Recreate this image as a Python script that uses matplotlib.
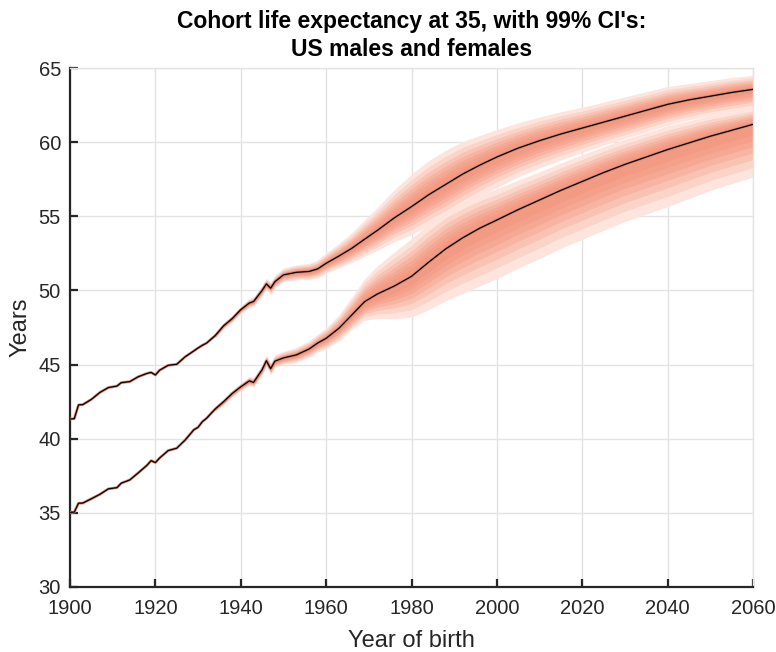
#Cohort life expectancy at 35 - fan chart, US males and females

from matplotlib import pyplot as plt
import numpy as np

plt.rcParams['font.family'] = ['Liberation Sans', 'DejaVu Sans']

# birth cohorts
years = [1900, 1901, 1902, 1903, 1905, 1907, 1909, 1911, 1912, 1914,
         1916, 1918, 1919, 1920, 1921, 1923, 1925, 1927, 1929, 1930,
         1931, 1932, 1934, 1936, 1938, 1940, 1942, 1943, 1945, 1946,
         1947, 1948, 1950, 1953, 1956, 1958, 1960, 1963, 1966, 1969,
         1972, 1976, 1980, 1984, 1988, 1992, 1996, 2000, 2005, 2010,
         2015, 2020, 2025, 2030, 2035, 2040, 2045, 2050, 2055, 2060]

# median e35, females
female_e35 = [41.33, 41.35, 42.28, 42.30, 42.65, 43.12, 43.45, 43.55, 43.78, 43.85,
              44.18, 44.40, 44.47, 44.30, 44.62, 44.95, 45.02, 45.53, 45.92, 46.12,
              46.30, 46.45, 46.95, 47.62, 48.10, 48.70, 49.15, 49.25, 50.00, 50.44,
              50.15, 50.59, 51.05, 51.22, 51.28, 51.45, 51.83, 52.32, 52.84, 53.45,
              54.05, 54.90, 55.65, 56.45, 57.15, 57.85, 58.45, 59.00, 59.60, 60.10,
              60.55, 60.95, 61.35, 61.75, 62.15, 62.55, 62.85, 63.10, 63.35, 63.56]

# median e35, males
male_e35 = [35.04, 35.05, 35.65, 35.66, 35.95, 36.25, 36.62, 36.70, 37.00, 37.22,
            37.70, 38.20, 38.52, 38.39, 38.70, 39.20, 39.36, 39.92, 40.60, 40.77,
            41.15, 41.38, 42.00, 42.50, 43.05, 43.50, 43.90, 43.80, 44.65, 45.26,
            44.72, 45.23, 45.45, 45.65, 46.05, 46.45, 46.77, 47.45, 48.34, 49.24,
            49.76, 50.30, 50.95, 51.90, 52.80, 53.55, 54.20, 54.75, 55.45, 56.10,
            56.75, 57.35, 57.95, 58.50, 59.00, 59.50, 59.95, 60.40, 60.80, 61.20]

# 99% interval, distance above / below the median (cohorts 1934 onwards)
band_start = 1934
female_up = [0.15, 0.20, 0.22, 0.25, 0.30, 0.30, 0.35, 0.38, 0.40, 0.42,
             0.45, 0.50, 0.55, 0.60, 0.70, 0.85, 1.05, 1.30, 1.55, 1.90,
             2.20, 2.30, 2.30, 2.20, 2.00, 1.85, 1.70, 1.60, 1.50, 1.40,
             1.35, 1.30, 1.25, 1.20, 1.10, 1.05, 1.00, 0.95]
female_down = [0.15, 0.20, 0.22, 0.25, 0.30, 0.30, 0.35, 0.38, 0.40, 0.42,
               0.45, 0.50, 0.55, 0.60, 0.65, 0.80, 0.95, 1.15, 1.35, 1.60,
               1.90, 2.05, 2.15, 2.15, 2.10, 2.05, 1.95, 1.85, 1.75, 1.65,
               1.55, 1.50, 1.45, 1.40, 1.35, 1.30, 1.30, 1.30]
male_up = [0.15, 0.20, 0.22, 0.25, 0.30, 0.30, 0.35, 0.38, 0.40, 0.42,
           0.45, 0.50, 0.55, 0.60, 0.70, 0.90, 1.20, 1.55, 1.90, 2.30,
           2.55, 2.60, 2.55, 2.40, 2.25, 2.10, 2.00, 1.90, 1.85, 1.80,
           1.75, 1.70, 1.65, 1.60, 1.50, 1.40, 1.25, 1.10]
male_down = [0.15, 0.20, 0.22, 0.25, 0.30, 0.30, 0.35, 0.38, 0.40, 0.42,
             0.45, 0.50, 0.55, 0.60, 0.70, 0.85, 1.00, 1.25, 1.65, 2.20,
             2.75, 3.20, 3.50, 3.75, 3.90, 3.95, 3.95, 3.95, 3.90, 3.90,
             3.90, 3.85, 3.85, 3.85, 3.75, 3.65, 3.60, 3.55]

# nested intervals, outermost (99%) first, as a share of the 99% width
levels = [1.0, 0.82, 0.67, 0.54, 0.42, 0.31, 0.20]
shades = ['#fde4dc', '#fbd4c8', '#f9c3b3', '#f7b4a1', '#f5a893', '#f4a08a', '#f29a82']

fig = plt.figure(figsize=(7.76, 6.52), dpi=100)
ax = fig.add_axes([0.0902, 0.0997, 0.8802, 0.796])

x = np.array(years)
k = x >= band_start


def fan(center, up, down):
    c = np.array(center)[k]
    for lev, col in zip(levels, shades):
        ax.fill_between(x[k], c - lev * np.array(down), c + lev * np.array(up),
                        color=col, linewidth=0, zorder=2)


fan(female_e35, female_up, female_down)
fan(male_e35, male_up, male_down)

for e35 in (female_e35, male_e35):
    ax.plot(years, e35, color='#d98470', linewidth=2.0, zorder=3)
    ax.plot(years, e35, color='black', linewidth=0.9, zorder=4)

ax.set_xlim(1900, 2060)
ax.set_ylim(30, 65)
ax.set_xticks(range(1900, 2061, 20))
ax.set_yticks(range(30, 66, 5))
ax.grid(True, color='#e3e3e3', linewidth=1.0, zorder=0)
ax.set_axisbelow(True)

for s in ('left', 'bottom'):
    ax.spines[s].set_color('#262626')
    ax.spines[s].set_linewidth(1.6)
for s in ('top', 'right'):
    ax.spines[s].set_color('#e3e3e3')
    ax.spines[s].set_linewidth(1.0)

ax.tick_params(direction='in', length=6, width=1.6, color='#262626',
               labelsize=14.5, labelcolor='#262626')
ax.tick_params(axis='x', pad=8.5)
ax.tick_params(axis='y', pad=6.5)

ax.set_xlabel('Year of birth', fontsize=17, color='#262626', labelpad=9)
ax.set_ylabel('Years', fontsize=17, color='#262626', labelpad=5)
ax.set_title("Cohort life expectancy at 35, with 99% CI's:\nUS males and females",
             fontsize=16.5, fontweight='bold', linespacing=1.25, pad=9)

fig.savefig('out.png', dpi=100)
